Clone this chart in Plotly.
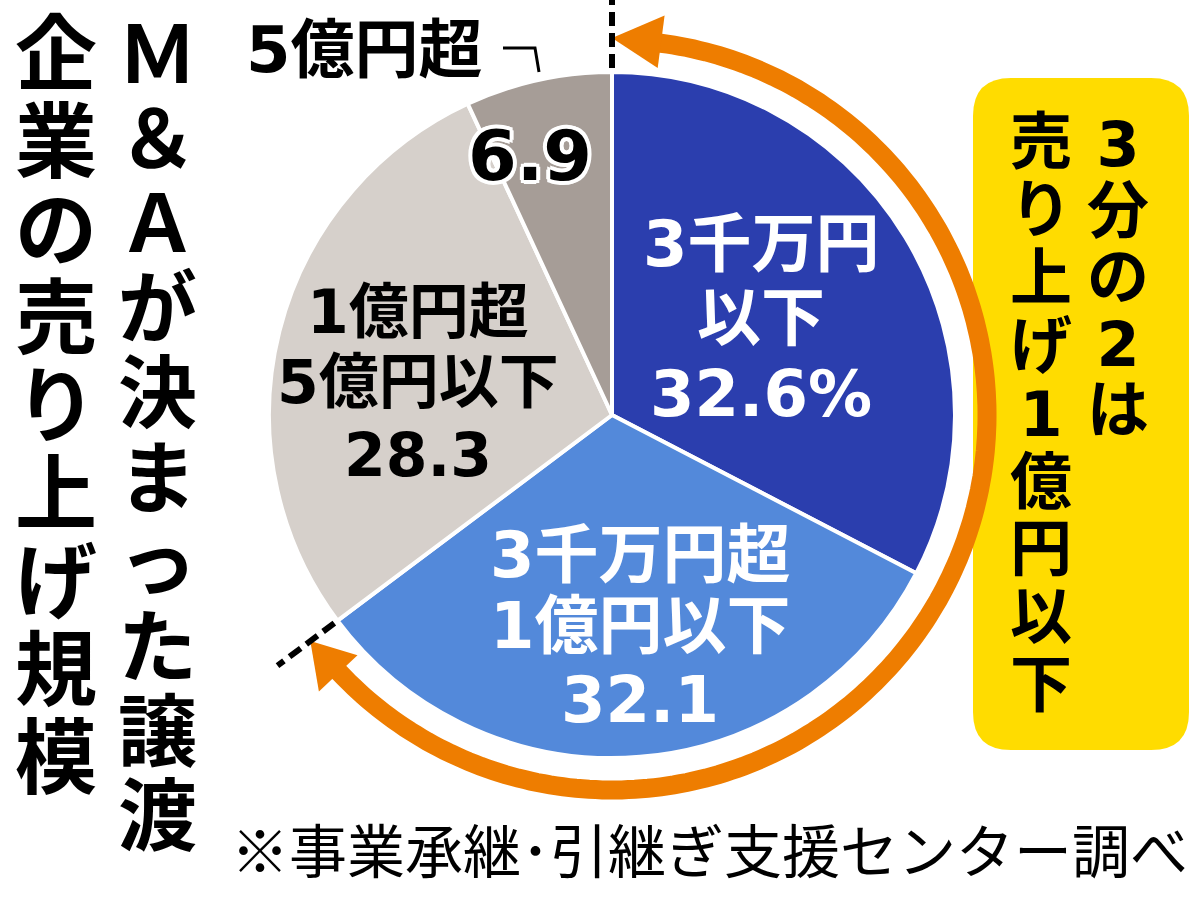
import math
import plotly.graph_objects as go

# ---------------- data ----------------
categories = ["3千万円以下", "3千万円超1億円以下", "1億円超5億円以下", "5億円超"]
shares = [32.6, 32.1, 28.3, 6.9]
slice_label_lines = [["3千万円", "以下"], ["3千万円超", "1億円以下"], ["1億円超", "5億円以下"], []]
slice_colors = ["#2B3EAE", "#5389DA", "#D6D0CB", "#A69D97"]
outside_label = "5億円超"
title_right = "Ｍ＆Ａが決まった譲渡"
title_left = "企業の売り上げ規模"
callout_right = "3分の2は"
callout_left = "売り上げ1億円以下"
source_note = "※事業承継･引継ぎ支援センター調べ"

# ---------------- geometry (pixels) ----------------
W, H = 1200, 898
CX, CY, R = 612, 415, 343
ORANGE = "#EE7D00"
YELLOW = "#FFDC00"
JP = "Noto Sans CJK JP"
NUMJP = "DejaVu Sans, Noto Sans CJK JP"


def polar(theta_deg, r):
    t = math.radians(theta_deg)
    return CX + r * math.sin(t), CY - r * math.cos(t)


total = sum(shares)
b_start = 0.0
b_end = 360.0 * (shares[0] + shares[1]) / total

fig = go.Figure()
fig.add_trace(go.Pie(
    values=shares, labels=categories, sort=False, direction="clockwise", rotation=0,
    marker=dict(colors=slice_colors, line=dict(color="white", width=4)),
    textinfo="none", hoverinfo="label+value", showlegend=False,
    domain=dict(x=[(CX - R) / W, (CX + R) / W], y=[(H - CY - R) / H, (H - CY + R) / H]),
))
fig.add_trace(go.Scatter(x=[None], y=[None], showlegend=False, hoverinfo="skip"))

shapes = []
annots = []

# yellow callout box (rounded)
x0, y0, x1, y1, rr = 973, 78, 1189, 750, 38
box = (f"M {x0+rr},{y0} L {x1-rr},{y0} Q {x1},{y0} {x1},{y0+rr} L {x1},{y1-rr} "
       f"Q {x1},{y1} {x1-rr},{y1} L {x0+rr},{y1} Q {x0},{y1} {x0},{y1-rr} "
       f"L {x0},{y0+rr} Q {x0},{y0} {x0+rr},{y0} Z")
shapes.append(dict(type="path", path=box, xref="x", yref="y", fillcolor=YELLOW,
                   line=dict(width=0), layer="above"))

# orange arc with arrowheads at both boundaries
RA = 375
head_top, head_bot = 7.5, 6.5
pts = []
a = b_start + head_top - 1
while a <= b_end - head_bot + 1:
    pts.append(polar(a, RA))
    a += 1.0
pts.append(polar(b_end - head_bot + 1, RA))
arc = "M " + " L ".join(f"{x:.1f},{y:.1f}" for x, y in pts)
shapes.append(dict(type="path", path=arc, xref="x", yref="y", fillcolor="rgba(0,0,0,0)",
                   line=dict(color=ORANGE, width=19), layer="above"))
for tip_ang, base_ang in [(b_start, b_start + head_top), (b_end, b_end - head_bot)]:
    tx, ty = polar(tip_ang, RA + 2)
    ax, ay = polar(base_ang, RA + 28)
    bx, by = polar(base_ang, RA - 25)
    shapes.append(dict(type="path", path=f"M {tx:.1f},{ty:.1f} L {ax:.1f},{ay:.1f} L {bx:.1f},{by:.1f} Z",
                       xref="x", yref="y", fillcolor=ORANGE, line=dict(width=0), layer="above"))

# dashed boundary markers
for ang in [b_start, b_end]:
    sx, sy = polar(ang, 347)
    ex, ey = polar(ang, 418)
    shapes.append(dict(type="line", x0=sx, y0=sy, x1=ex, y1=ey, xref="x", yref="y",
                       line=dict(color="black", width=6, dash="14px,7px"), layer="above"))

# hook for the small-slice label
shapes.append(dict(type="path", path="M 503,48 L 535,48 L 539,72", xref="x", yref="y",
                   fillcolor="rgba(0,0,0,0)", line=dict(color="black", width=3), layer="above"))


def txt(x, y, s, size, color="black", weight="bold", family=JP, shadow=None):
    f = dict(family=family, size=size, color=color, weight=weight)
    if shadow:
        f["shadow"] = shadow
    annots.append(dict(x=x, y=y, xref="x", yref="y", text=s, showarrow=False,
                       xanchor="center", yanchor="middle", font=f))


def vtext(x, first_center, pitch, s, glyph_size, color="black", weight="bold"):
    """Vertical (top-to-bottom) text as one annotation: line pitch from base size,
    glyphs enlarged with inline spans."""
    base = pitch / 1.3
    body = "<br>".join(f'<span style="font-size:{glyph_size}px">{c}</span>' for c in s)
    mid = first_center + pitch * (len(s) - 1) / 2.0
    annots.append(dict(x=x, y=mid - 0.02 * glyph_size, xref="x", yref="y", text=body,
                       showarrow=False, xanchor="center", yanchor="middle", align="center",
                       font=dict(family=NUMJP, size=base, color=color, weight=weight)))


# slice labels
slice_pos = [(761, [244, 318, 394], 64, "white"),
             (640, [555, 626, 700], 64, "white"),
             (418, [312, 382, 455], 60, "black")]
for i, (lx, ys, sz, col) in enumerate(slice_pos):
    lines = slice_label_lines[i] + [f"{shares[i]}%" if i == 0 else f"{shares[i]}"]
    for s, yy in zip(lines, ys):
        txt(lx, yy, s, sz, color=col, family=NUMJP)

outline = ",".join(f"white {dx}px {dy}px 0px" for dx, dy in
                   [(4, 0), (-4, 0), (0, 4), (0, -4), (3, 3), (-3, 3), (3, -3), (-3, -3)])
txt(530, 156, f"{shares[3]}", 70, family=NUMJP, shadow=outline)
txt(364, 50, outside_label, 64, family=NUMJP)

# vertical title columns
vtext(157, 57, 84.7, title_right, 79)
vtext(56, 56, 88.0, title_left, 82)

# callout text
vtext(1118, 146, 66.5, callout_right, 62)
vtext(1041, 144, 67.9, callout_left, 62)

# source note
txt(709, 848, source_note, 58, weight="normal")

fig.update_layout(
    width=W, height=H, margin=dict(l=0, r=0, t=0, b=0, pad=0),
    paper_bgcolor="white", plot_bgcolor="rgba(0,0,0,0)",
    xaxis=dict(range=[0, W], visible=False, fixedrange=True, domain=[0, 1]),
    yaxis=dict(range=[H, 0], visible=False, fixedrange=True, domain=[0, 1]),
    shapes=shapes, annotations=annots, showlegend=False,
)
fig.write_html("out.html", config={"displayModeBar": False},
               post_script="document.body.style.margin='0px';document.body.style.overflow='hidden';")
